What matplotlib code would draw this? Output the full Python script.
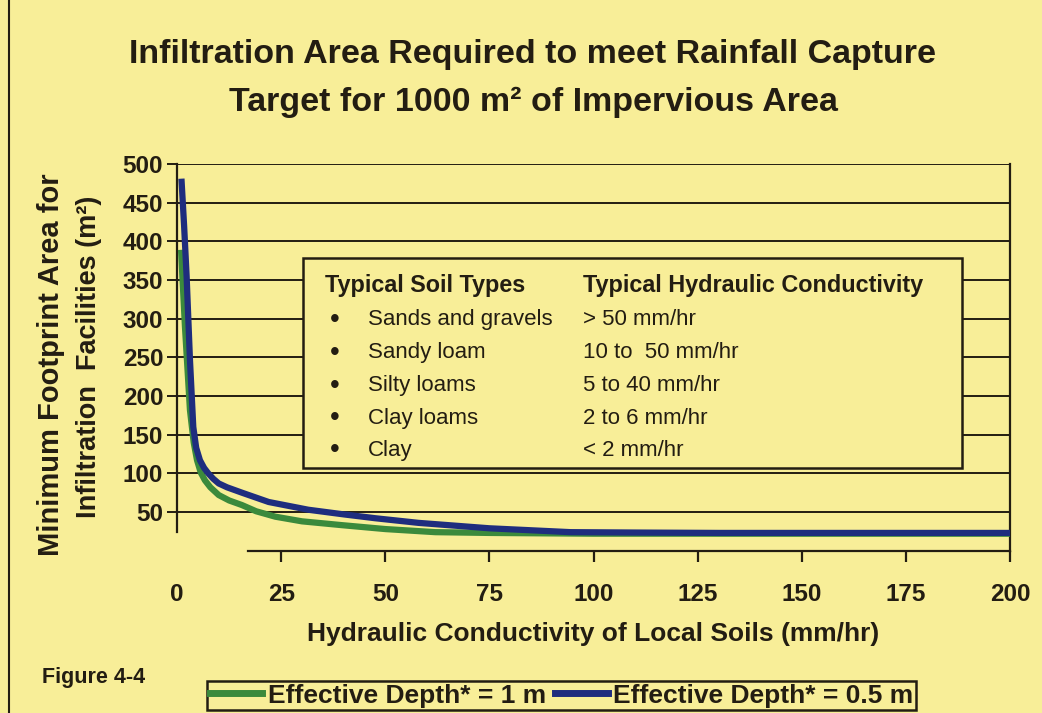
import numpy as np
import matplotlib.pyplot as plt
from matplotlib.lines import Line2D
from matplotlib.patches import Rectangle

# curve readings (hydraulic conductivity mm/hr -> footprint area m2)
k_1m = [1.0, 1.9, 3.1, 4.0, 4.8, 5.7, 6.7, 8.0, 10, 12.5, 15.6, 19, 23.6, 30,
        39.7, 50, 62, 75, 100, 130, 160, 200]
area_1m = [385, 290, 182, 140, 117, 101, 91, 82, 72, 65, 59, 51, 44, 38,
           33, 28, 24, 23, 22, 22, 22, 22]

k_05m = [1.1, 1.7, 2.3, 3.1, 3.9, 4.6, 5.5, 6.5, 7.5, 8.7, 10, 12, 15.6, 22,
         31.5, 40, 47.6, 58, 75, 94.5, 110, 130, 160, 200]
area_05m = [477, 420, 355, 247, 160, 133, 117, 107, 100, 93, 87, 82, 75, 63,
            53, 47, 42, 36, 29, 24, 23.5, 23, 23, 23]

soil_types = ['Sands and gravels', 'Sandy loam', 'Silty loams', 'Clay loams', 'Clay']
soil_k = ['> 50 mm/hr', '10 to  50 mm/hr', '5 to 40 mm/hr', '2 to 6 mm/hr', '< 2 mm/hr']

x_ticks = [0, 25, 50, 75, 100, 125, 150, 175, 200]
y_ticks = [50, 100, 150, 200, 250, 300, 350, 400, 450, 500]

bg = '#f8ee98'
ink = '#231d12'
arial = ['Liberation Sans', 'DejaVu Sans']

fig = plt.figure(figsize=(10.42, 7.13), dpi=100, facecolor=bg)
ax = fig.add_axes([0.1699, 0.2276, 0.7994, 0.5424])
ax.set_facecolor(bg)

ax.plot(k_1m, area_1m, color='#3b8a3c', lw=4.5, zorder=3, label='Effective Depth* = 1 m')
ax.plot(k_05m, area_05m, color='#1f2d7e', lw=4.5, zorder=4, label='Effective Depth* = 0.5 m')

ax.set_xlim(0, 200)
ax.set_ylim(0, 500)

ax.set_yticks(y_ticks)
ax.set_xticks(x_ticks)
ax.yaxis.grid(True, color=ink, lw=1.4)
ax.set_axisbelow(True)
ax.tick_params(axis='y', direction='out', length=7, width=1.4, color=ink, pad=3)
ax.tick_params(axis='x', direction='out', length=8, width=1.6, color=ink, pad=15)
ax.xaxis.get_major_ticks()[0].tick1line.set_visible(False)
for lab in ax.get_xticklabels() + ax.get_yticklabels():
    lab.set_fontfamily(arial)
    lab.set_fontweight('bold')
    lab.set_fontsize(17.5)
    lab.set_color(ink)

ax.spines['top'].set_visible(False)
for s in ['left', 'bottom', 'right']:
    ax.spines[s].set_color(ink)
    ax.spines[s].set_linewidth(1.6)
ax.spines['left'].set_bounds(24, 500)
ax.spines['bottom'].set_bounds(17, 200)

ax.set_xlabel('Hydraulic Conductivity of Local Soils (mm/hr)', fontsize=19,
              fontweight='bold', family=arial, color=ink)
ax.xaxis.set_label_coords(0.5, -0.184)
fig.text(0.049, 0.489, 'Minimum Footprint Area for', rotation=90, ha='center',
         va='center', fontsize=21, fontweight='bold', family=arial, color=ink)
fig.text(0.0855, 0.5, 'Infiltration  Facilities (m²)', rotation=90, ha='center',
         va='center', fontsize=19.5, fontweight='bold', family=arial, color=ink)

# title
fig.text(0.5115, 0.923, 'Infiltration Area Required to meet Rainfall Capture',
         ha='center', va='center', fontsize=24.5, fontweight='bold', family=arial, color=ink)
fig.text(0.5115, 0.856, 'Target for 1000 m² of Impervious Area',
         ha='center', va='center', fontsize=24.5, fontweight='bold', family=arial, color=ink)

# soil type box
ax.add_patch(Rectangle((0.1515, 0.214), 0.791, 0.544, transform=ax.transAxes,
                       facecolor=bg, edgecolor=ink, lw=1.8, zorder=5))
ax.text(0.1777, 0.686, 'Typical Soil Types', transform=ax.transAxes, fontsize=16.8,
        fontweight='bold', family=arial, color=ink, va='center', zorder=6)
ax.text(0.4874, 0.686, 'Typical Hydraulic Conductivity', transform=ax.transAxes,
        fontsize=16.8, fontweight='bold', family=arial, color=ink, va='center', zorder=6)
row_y = [0.597, 0.512, 0.426, 0.343, 0.260]
for yy, name, kk in zip(row_y, soil_types, soil_k):
    ax.text(0.184, yy, '•', transform=ax.transAxes, fontsize=20, family=arial,
            color=ink, va='center', zorder=6)
    ax.text(0.229, yy, name, transform=ax.transAxes, fontsize=16, family=arial,
            color=ink, va='center', zorder=6)
    ax.text(0.4874, yy, kk, transform=ax.transAxes, fontsize=16, family=arial,
            color=ink, va='center', zorder=6)

# bottom legend
leg = fig.legend(loc='upper left', bbox_to_anchor=(0.1987, 0.0449), ncol=2,
                 frameon=True, fancybox=False, edgecolor=ink, facecolor=bg,
                 framealpha=1, handlelength=2.0, handletextpad=0.2,
                 columnspacing=0.35, borderpad=0.1, borderaxespad=0,
                 prop={'family': arial, 'weight': 'bold', 'size': 19})
leg.get_frame().set_linewidth(1.8)
for t in leg.get_texts():
    t.set_color(ink)
for h in leg.legend_handles:
    h.set_linewidth(5)

fig.text(0.04, 0.05, 'Figure 4-4', fontsize=15.5, fontweight='bold', family=arial,
         color=ink, va='center')

# outer frame line on the left
fig.add_artist(Line2D([0.0085, 0.0085], [0, 1], transform=fig.transFigure,
                      color=ink, lw=1.5))

fig.savefig('out.png', dpi=100, facecolor=bg)
